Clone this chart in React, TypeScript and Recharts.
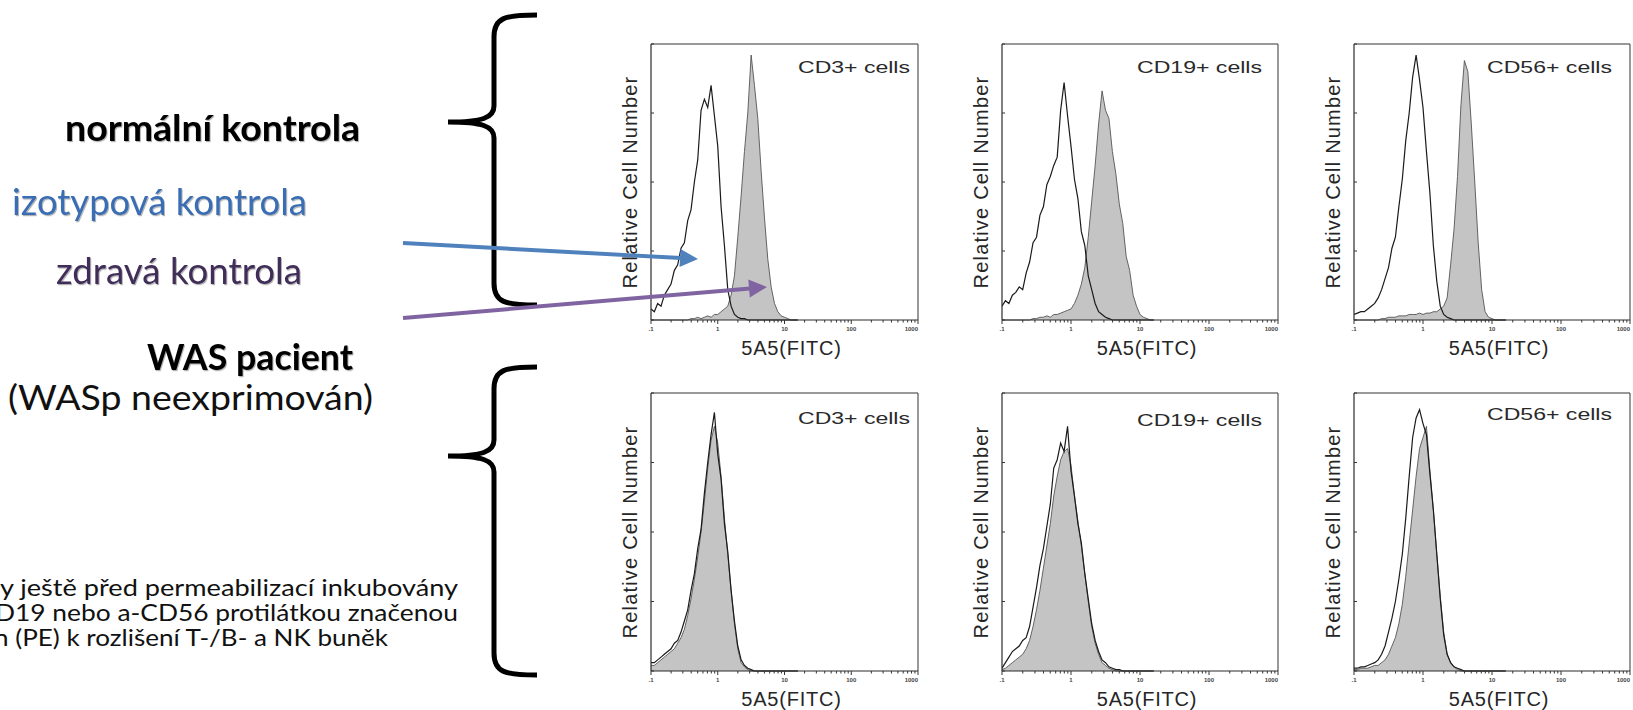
import React from "react";
import { ComposedChart, Area, Line, XAxis, YAxis, ReferenceLine, Label } from "recharts";

// FITC channels: 20 bins per decade, starting at 0.1
const FITC = Array.from({ length: 45 }, (_, i) => Number((10 ** (-1 + i / 20)).toFixed(4)));

const DECADES = [0.1, 1, 10, 100, 1000];
const DECADE_LABELS = [".1", "1", "10", "100", "1000"];
const MINOR_STEPS = [2, 3, 4, 5, 6, 7, 8, 9];
const X_TICKS = [...DECADES, ...DECADES.slice(0, 4).flatMap((d) => MINOR_STEPS.map((m) => d * m))].sort((a, b) => a - b);
const Y_TICKS = [0, 25, 50, 75, 100];

const CELL_TYPES = ["CD3+ cells", "CD19+ cells", "CD56+ cells"];

// normal control: isotype (open) vs 5A5 stain (filled), % of max
const ctrlCD3Iso = [4, 3, 6, 5, 9, 11, 13, 18, 20, 26, 28, 36, 40, 50, 58, 76, 80, 77, 85, 74, 63, 41, 27, 11, 5, 2, 1, 0.5, 0.5, 0, 0, 0, 0, 0, 0, 0, 0, 0, 0, 0, 0, 0, 0, 0, 0];
const ctrlCD3Stain = [0, 0, 0, 0, 0, 0, 0, 0, 0, 0, 0, 0, 0.5, 0.5, 1, 0.5, 1, 1.5, 1, 2, 2, 3, 4, 5, 9, 16, 30, 45, 61, 75, 96, 85, 73, 54, 37, 22, 12, 6, 3, 1.5, 1, 0.5, 0, 0, 0];
const ctrlCD19Iso = [5, 7, 6, 9, 10, 12, 11, 17, 21, 28, 30, 38, 41, 49, 52, 56, 59, 76, 86, 74, 63, 51, 44, 32, 27, 16, 11, 6, 3, 2, 1, 0.5, 0, 0, 0, 0, 0, 0, 0, 0, 0, 0, 0, 0, 0];
const ctrlCD19Stain = [0, 0, 0, 0, 0, 0, 0, 0, 0, 0.5, 0.5, 1, 1, 1.5, 1, 2, 2, 2.5, 3, 3.5, 4, 6, 9, 13, 19, 30, 43, 56, 71, 83, 76, 73, 61, 53, 42, 35, 23, 18, 9, 5, 2, 1, 0.5, 0, 0];
const ctrlCD56Iso = [2, 2.5, 3, 3, 4, 5, 6, 8, 11, 15, 19, 26, 30, 41, 51, 65, 75, 88, 96, 87, 77, 61, 46, 27, 14, 5, 2, 1, 0.5, 0, 0, 0, 0, 0, 0, 0, 0, 0, 0, 0, 0, 0, 0, 0, 0];
const ctrlCD56Stain = [0, 0, 0, 0, 0, 0, 0, 0, 0.5, 0.5, 1, 1, 1, 1.5, 1.5, 1.5, 2, 2, 2, 2.5, 2, 2.5, 2.5, 3, 3, 4, 5, 8, 20, 33, 52, 78, 94, 90, 71, 50, 28, 11, 3, 1, 0.5, 0, 0, 0, 0];

// WAS patient
const wasCD3Iso = [3, 3, 4, 5, 6, 7, 8, 10, 11, 14, 18, 22, 29, 35, 44, 51, 64, 75, 85, 93, 78, 69, 53, 43, 29, 18, 9, 4, 2, 1, 0.5, 0, 0, 0, 0, 0, 0, 0, 0, 0, 0, 0, 0, 0, 0];
const wasCD3Stain = [2, 2, 3, 4, 5, 6, 7, 8, 10, 12, 15, 20, 26, 33, 41, 50, 61, 73, 83, 88, 82, 70, 55, 42, 29, 17, 8, 3, 1.5, 0.5, 0, 0, 0, 0, 0, 0, 0, 0, 0, 0, 0, 0, 0, 0, 0];
const wasCD19Iso = [1, 3, 5, 7, 8, 9, 11, 12, 16, 23, 30, 38, 44, 52, 60, 73, 76, 82, 79, 88, 72, 63, 53, 46, 35, 26, 17, 11, 7, 4, 3, 1.5, 1, 0.5, 0.5, 0, 0, 0, 0, 0, 0, 0, 0, 0, 0];
const wasCD19Stain = [0.5, 1, 2, 3, 4, 5, 6, 8, 11, 16, 22, 29, 37, 45, 53, 63, 70, 76, 79, 80, 74, 63, 54, 45, 35, 25, 16, 10, 6, 3, 2, 1, 0.5, 0, 0, 0, 0, 0, 0, 0, 0, 0, 0, 0, 0];
const wasCD56Iso = [1, 1, 1.5, 1.5, 2, 2.5, 3, 4, 6, 9, 14, 19, 25, 33, 42, 55, 70, 84, 91, 94, 89, 85, 71, 58, 42, 26, 13, 6, 3, 1.5, 1, 0.5, 0, 0, 0, 0, 0, 0, 0, 0, 0, 0, 0, 0, 0];
const wasCD56Stain = [0.5, 0.5, 1, 1, 1, 1.5, 2, 2, 3, 4, 6, 9, 12, 17, 24, 34, 46, 58, 70, 80, 84, 88, 72, 58, 42, 27, 14, 6, 3, 1.5, 0.5, 0, 0, 0, 0, 0, 0, 0, 0, 0, 0, 0, 0, 0, 0];

const PLOT_FONT = "'Liberation Sans', Arial, sans-serif";
const SLIDE_FONT = "Lato, 'Open Sans', sans-serif";

// plot-area geometry of the 3x2 grid
const COLS = [
  { x: 651, w: 267, titleDx: 147, titleW: 112 },
  { x: 1002, w: 276, titleDx: 135, titleW: 125 },
  { x: 1354, w: 276, titleDx: 133, titleW: 125 },
];
const ROWS = [
  { y: 44, h: 276 },
  { y: 393, h: 278 },
];

const PANELS = [
  { col: 0, row: 0, iso: ctrlCD3Iso, stain: ctrlCD3Stain, titleDy: 29 },
  { col: 1, row: 0, iso: ctrlCD19Iso, stain: ctrlCD19Stain, titleDy: 29 },
  { col: 2, row: 0, iso: ctrlCD56Iso, stain: ctrlCD56Stain, titleDy: 29 },
  { col: 0, row: 1, iso: wasCD3Iso, stain: wasCD3Stain, titleDy: 31 },
  { col: 1, row: 1, iso: wasCD19Iso, stain: wasCD19Stain, titleDy: 33 },
  { col: 2, row: 1, iso: wasCD56Iso, stain: wasCD56Stain, titleDy: 27 },
];

const PAD_L = 60;
const PAD_T = 10;
const PAD_R = 10;
const PAD_B = 40;

function FitcTick(props: any) {
  const { x, y, payload } = props;
  const v = payload.value;
  const idx = DECADES.findIndex((d) => Math.abs(d - v) / d < 1e-6);
  const major = idx >= 0;
  const last = idx === DECADES.length - 1;
  return (
    <g>
      <line x1={x} x2={x} y1={y} y2={y + (major ? 4 : 2.5)} stroke="#333" strokeWidth={1} />
      {major && (
        <text
          x={x}
          y={y + 11}
          textAnchor={last ? "end" : "middle"}
          fontSize={6}
          fontWeight="bold"
          fill="#444"
          fontFamily={PLOT_FONT}
        >
          {DECADE_LABELS[idx]}
        </text>
      )}
    </g>
  );
}

function CountTick(props: any) {
  const { x, y } = props;
  return <line x1={x} x2={x + 3} y1={y} y2={y} stroke="#333" strokeWidth={1} />;
}

function Histogram({ panel }: { panel: (typeof PANELS)[number] }) {
  const col = COLS[panel.col];
  const row = ROWS[panel.row];
  const w = col.w;
  const h = row.h;
  const rows = FITC.map((fitc, i) => ({ fitc, iso: panel.iso[i], stain: panel.stain[i] }));
  const title = CELL_TYPES[panel.col];

  return (
    <div style={{ position: "absolute", left: col.x - PAD_L, top: row.y - PAD_T }}>
      <ComposedChart
        width={w + PAD_L + PAD_R}
        height={h + PAD_T + PAD_B}
        data={rows}
        margin={{ top: PAD_T, right: PAD_R, bottom: 0, left: 0 }}
      >
        <XAxis
          dataKey="fitc"
          type="number"
          scale="log"
          domain={[0.1, 1000]}
          allowDataOverflow
          ticks={X_TICKS}
          interval={0}
          tickSize={0}
          tickMargin={0}
          tickLine={false}
          tick={(p: any) => <FitcTick {...p} />}
          height={PAD_B}
          axisLine={{ stroke: "#2a2a2a", strokeWidth: 1.2 }}
        >
          <Label
            content={() => (
              <text
                x={PAD_L + w / 2 + 7}
                y={PAD_T + h + 35}
                textAnchor="middle"
                fontSize={20}
                letterSpacing={0.8}
                fill="#262626"
                fontFamily={PLOT_FONT}
              >
                5A5(FITC)
              </text>
            )}
          />
        </XAxis>
        <YAxis
          type="number"
          domain={[0, 100]}
          ticks={Y_TICKS}
          width={PAD_L}
          tickSize={0}
          tickMargin={0}
          tickLine={false}
          tick={(p: any) => <CountTick {...p} />}
          axisLine={{ stroke: "#2a2a2a", strokeWidth: 1.2 }}
        >
          <Label
            content={() => (
              <text
                x={PAD_L - 21}
                y={PAD_T + h / 2}
                transform={`rotate(-90, ${PAD_L - 21}, ${PAD_T + h / 2})`}
                textAnchor="middle"
                dominantBaseline="central"
                fontSize={20}
                letterSpacing={1.2}
                fill="#262626"
                fontFamily={PLOT_FONT}
              >
                Relative Cell Number
              </text>
            )}
          />
        </YAxis>
        <ReferenceLine
          y={100}
          stroke="#777"
          strokeWidth={1.5}
          label={
            <Label
              content={() => (
                <text
                  x={PAD_L + col.titleDx}
                  y={PAD_T + panel.titleDy}
                  textLength={col.titleW}
                  lengthAdjust="spacingAndGlyphs"
                  fontSize={17}
                  fill="#2a2a2a"
                  fontFamily={PLOT_FONT}
                >
                  {title}
                </text>
              )}
            />
          }
        />
        <ReferenceLine x={1000} stroke="#555" strokeWidth={1.2} />
        <Area
          type="linear"
          dataKey="stain"
          stroke="#555"
          strokeWidth={0.9}
          fill="#c4c4c4"
          fillOpacity={1}
          dot={false}
          activeDot={false}
          isAnimationActive={false}
        />
        <Line
          type="linear"
          dataKey="iso"
          stroke="#1a1a1a"
          strokeWidth={1.2}
          dot={false}
          activeDot={false}
          isAnimationActive={false}
        />
      </ComposedChart>
    </div>
  );
}

function bracePath(top: number, tip: number, bottom: number) {
  const bx = 494;
  const ex = 537;
  const tx = 448;
  return [
    `M ${ex} ${top}`,
    `C ${bx + 10} ${top} ${bx} ${top + 3} ${bx} ${top + 22}`,
    `L ${bx} ${tip - 16}`,
    `C ${bx} ${tip - 4} ${bx - 12} ${tip} ${tx} ${tip}`,
    `C ${bx - 12} ${tip} ${bx} ${tip + 4} ${bx} ${tip + 16}`,
    `L ${bx} ${bottom - 22}`,
    `C ${bx} ${bottom - 3} ${bx + 10} ${bottom} ${ex} ${bottom}`,
  ].join(" ");
}

function Arrow({ x1, y1, x2, y2, color }: { x1: number; y1: number; x2: number; y2: number; color: string }) {
  const len = Math.hypot(x2 - x1, y2 - y1);
  const ux = (x2 - x1) / len;
  const uy = (y2 - y1) / len;
  const head = 18;
  const half = 9;
  const bx = x2 - ux * head;
  const by = y2 - uy * head;
  const pts = `${x2},${y2} ${bx - uy * half},${by + ux * half} ${bx + uy * half},${by - ux * half}`;
  return (
    <g>
      <line x1={x1} y1={y1} x2={bx + ux} y2={by + uy} stroke={color} strokeWidth={4} />
      <polygon points={pts} fill={color} />
    </g>
  );
}

function SlideText() {
  const shadow = "url(#textShadow)";
  return (
    <svg width={1633} height={710} style={{ position: "absolute", left: 0, top: 0, pointerEvents: "none" }}>
      <defs>
        <filter id="textShadow" x="-5%" y="-20%" width="110%" height="140%">
          <feDropShadow dx={1} dy={1.2} stdDeviation={0.7} floodColor="#000" floodOpacity={0.3} />
        </filter>
      </defs>
      <g fontFamily={SLIDE_FONT}>
        <text x={65} y={141} fontSize={37} fontWeight="bold" fill="#000" textLength={295} lengthAdjust="spacingAndGlyphs" filter={shadow}>
          normální kontrola
        </text>
        <text x={12} y={215} fontSize={37} fill="#3a6db3" textLength={295} lengthAdjust="spacingAndGlyphs" filter={shadow}>
          izotypová kontrola
        </text>
        <text x={56} y={284} fontSize={37} fill="#3f2d58" textLength={246} lengthAdjust="spacingAndGlyphs" filter={shadow}>
          zdravá kontrola
        </text>
        <text x={147} y={370} fontSize={37} fontWeight="bold" fill="#000" textLength={206} lengthAdjust="spacingAndGlyphs" filter={shadow}>
          WAS pacient
        </text>
        <text x={8} y={410} fontSize={34} fill="#111" textLength={365} lengthAdjust="spacingAndGlyphs">
          (WASp neexprimován)
        </text>
        <text x={0} y={596} fontSize={23} fill="#111" textLength={458} lengthAdjust="spacingAndGlyphs">
          y ještě před permeabilizací inkubovány
        </text>
        <text x={-5} y={621} fontSize={23} fill="#111" textLength={463} lengthAdjust="spacingAndGlyphs">
          D19 nebo a-CD56 protilátkou značenou
        </text>
        <text x={-6} y={646} fontSize={23} fill="#111" textLength={394} lengthAdjust="spacingAndGlyphs">
          n (PE) k rozlišení T-/B- a NK buněk
        </text>
      </g>
      <path d={bracePath(15, 122, 305)} fill="none" stroke="#000" strokeWidth={5} />
      <path d={bracePath(367, 456, 675)} fill="none" stroke="#000" strokeWidth={5} />
      <Arrow x1={403} y1={243} x2={698} y2={259} color="#4f81bd" />
      <Arrow x1={403} y1={318} x2={767} y2={287} color="#8064a2" />
    </svg>
  );
}

export default function App() {
  return (
    <div style={{ position: "absolute", left: 0, top: 0, width: 1633, height: 710, background: "#fff", overflow: "hidden" }}>
      {PANELS.map((p, i) => (
        <Histogram key={i} panel={p} />
      ))}
      <SlideText />
    </div>
  );
}
